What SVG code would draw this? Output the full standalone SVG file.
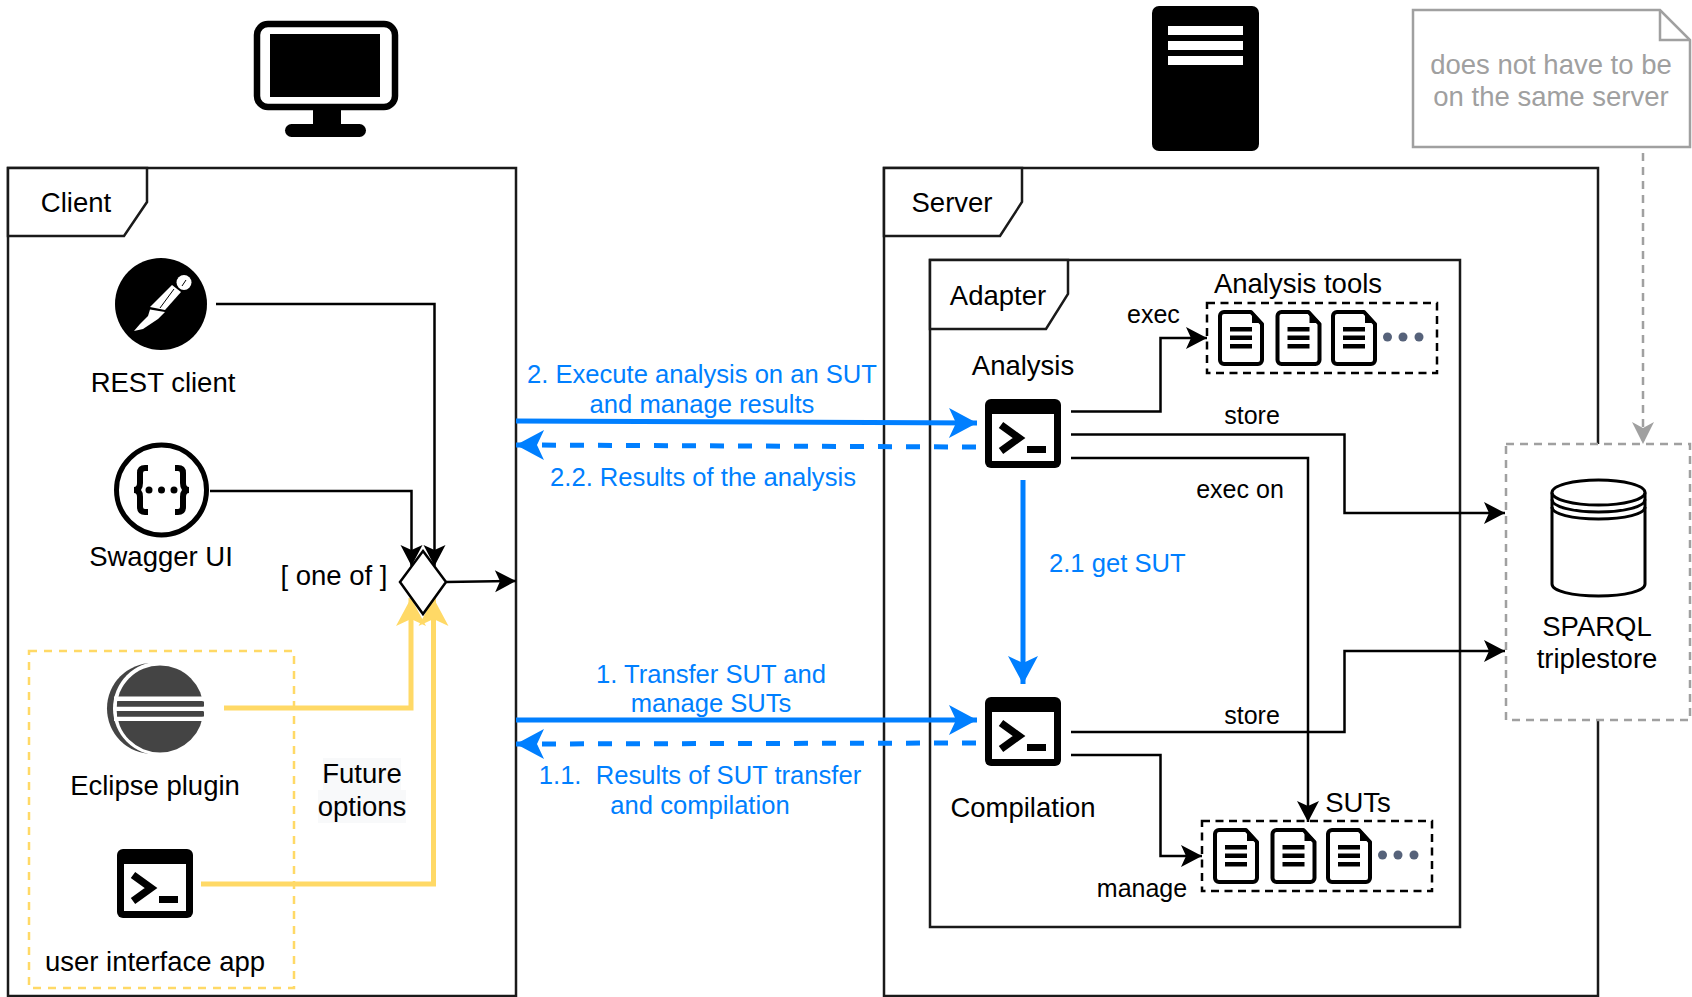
<svg xmlns="http://www.w3.org/2000/svg" xmlns:xlink="http://www.w3.org/1999/xlink" width="1692" height="997" viewBox="0 0 1692 997">
<style>
text{font-family:"Liberation Sans",Arial,sans-serif;font-size:27.5px;fill:#000}
.m{text-anchor:middle}
.b{fill:#007fff;font-size:25.6px}
.s{font-size:25px}
.g{fill:#a0a0a0}
.frame{fill:none;stroke:#1a1a1a;stroke-width:2.5}
.tab{fill:#fff;stroke:#1a1a1a;stroke-width:2.5}
.c{fill:none;stroke:#000;stroke-width:2.5;marker-end:url(#ah)}
.bl{fill:none;stroke:#007fff;stroke-width:5;marker-end:url(#bh)}
.bd{fill:none;stroke:#007fff;stroke-width:5;stroke-dasharray:14 14;marker-end:url(#bh)}
.y{fill:none;stroke:#ffd966;stroke-width:5;marker-end:url(#yh)}
.dash{fill:none;stroke:#000;stroke-width:2.5;stroke-dasharray:8 5.5}
</style>
<defs>
<marker id="ah" markerUnits="userSpaceOnUse" markerWidth="24" markerHeight="26" viewBox="-22 -13 24 26" refX="0" refY="0" orient="auto"><path d="M-21,-11L0,0L-21,11L-16,0Z" fill="#000"/></marker>
<marker id="bh" markerUnits="userSpaceOnUse" markerWidth="32" markerHeight="34" viewBox="-30 -17 32 34" refX="0" refY="0" orient="auto"><path d="M-28,-15L0,0L-28,15L-21,0Z" fill="#007fff"/></marker>
<marker id="yh" markerUnits="userSpaceOnUse" markerWidth="32" markerHeight="34" viewBox="-30 -17 32 34" refX="0" refY="0" orient="auto"><path d="M-28,-15L0,0L-28,15L-21,0Z" fill="#ffd966"/></marker>
<marker id="gh" markerUnits="userSpaceOnUse" markerWidth="24" markerHeight="26" viewBox="-22 -13 24 26" refX="0" refY="0" orient="auto"><path d="M-22,-11L0,0L-22,11L-16,0Z" fill="#a0a0a0"/></marker>
<symbol id="term" viewBox="0 0 76 69" width="76" height="69" overflow="visible">
<rect width="76" height="69" rx="6" fill="#000"/>
<rect x="7" y="15" width="62" height="47" fill="#fff"/>
<path d="M16,26L34,39L16,52" fill="none" stroke="#000" stroke-width="7.5"/>
<rect x="42" y="47" width="19" height="7" fill="#000"/>
</symbol>
<symbol id="doc" viewBox="0 0 46 56" width="46" height="56" overflow="visible">
<path d="M6,2H33L44,14V50a4,4 0 0 1 -4,4H6a4,4 0 0 1 -4,-4V6a4,4 0 0 1 4,-4Z" fill="#fff" stroke="#000" stroke-width="4" stroke-linejoin="round"/>
<path d="M34,1L45,13H34Z" fill="#000"/>
<path d="M12,17h22v4.500h-22zM12,25.500h22v4.500h-22zM12,34h22v4.500h-22z" fill="#000"/>
</symbol>
</defs>
<rect width="1692" height="997" fill="#fff"/>

<g id="client-frame">
<path class="frame" d="M8,168H516V996H8Z"/>
<path class="tab" d="M8,168H147V202L124,236H8Z"/>
<text x="76" y="212" class="m">Client</text>
</g>
<g id="server-frame">
<path class="frame" d="M884,168H1598V996H884Z"/>
<path class="tab" d="M884,168H1022V202L1000,236H884Z"/>
<text x="952" y="212" class="m">Server</text>
</g>
<g id="adapter-frame">
<path class="frame" d="M930,260H1460V927H930Z"/>
<path class="tab" d="M930,260H1068V294L1046,329H930Z"/>
<text x="998" y="305" class="m">Adapter</text>
</g>
<g id="monitor">
<rect x="257" y="24" width="138" height="83" rx="11" fill="#fff" stroke="#000" stroke-width="6.500"/>
<rect x="270" y="34" width="110" height="63" fill="#000"/>
<rect x="313" y="110" width="28" height="16" fill="#000"/>
<rect x="285" y="124" width="81" height="13" rx="6.500" fill="#000"/>
</g>
<g id="server-icon">
<rect x="1152" y="6" width="107" height="145" rx="7" fill="#000"/>
<path d="M1168,26h75v9h-75zM1168,41h75v9h-75zM1168,56h75v9h-75z" fill="#fff"/>
</g>
<g id="note">
<path d="M1413,10H1660L1690,40V147H1413Z" fill="#fff" stroke="#a0a0a0" stroke-width="2.500"/>
<path d="M1660,10V40H1690" fill="none" stroke="#a0a0a0" stroke-width="2.500"/>
<text x="1551" y="74" class="m g">does not have to be</text>
<text x="1551" y="106" class="m g">on the same server</text>
</g>
<g id="sparql">
<rect x="1506" y="444" width="184" height="276" fill="#fff" stroke="#a0a0a0" stroke-width="2.500" stroke-dasharray="8 6"/>
<path d="M1552,492.500V584C1552,591 1572,596 1598.500,596C1625,596 1645,591 1645,584V492.500" fill="#fff" stroke="#000" stroke-width="3"/>
<ellipse cx="1598.500" cy="492.500" rx="46.500" ry="12.500" fill="#fff" stroke="#000" stroke-width="3"/>
<path d="M1552,499.500C1552,506.500 1572,512 1598.500,512C1625,512 1645,506.500 1645,499.500M1552,507C1552,514 1572,519 1598.500,519C1625,519 1645,514 1645,507" fill="none" stroke="#000" stroke-width="3"/>
<text x="1597" y="636" class="m">SPARQL</text>
<text x="1597" y="668" class="m">triplestore</text>
</g>
<g id="future-options">
<rect x="29" y="651" width="265" height="337" fill="none" stroke="#ffd966" stroke-width="2.500" stroke-dasharray="8 7"/>
<rect x="323" y="758" width="78" height="32" fill="#f8f9fa"/>
<rect x="318" y="790" width="88" height="33" fill="#f8f9fa"/>
<text x="362" y="783" class="m">Future</text>
<text x="362" y="816" class="m">options</text>
</g>

<g id="connectors">
<path class="c" d="M216,304H434.500V566"/>
<path class="c" d="M210,491H411.500V566"/>
<path class="c" d="M446,582L516,581"/>
<path class="y" d="M224,708H411V598"/>
<path class="y" d="M201,884H433.500V598"/>
<path class="c" d="M1071,411.500H1160.500V338H1207"/>
<path class="c" d="M1071,434.500H1344.500V513H1505"/>
<path class="c" d="M1071,458H1308V822"/>
<path class="c" d="M1071,732H1344.500V651H1505"/>
<path class="c" d="M1071,755H1160.500V856H1202"/>
<path class="bl" d="M516,421L977,423"/>
<path class="bd" d="M976,447L516,445"/>
<path class="bl" d="M516,720L977,720"/>
<path class="bd" d="M976,743L516,744"/>
<path class="bl" d="M1023,480V684"/>
<path d="M1643,153V444" fill="none" stroke="#a0a0a0" stroke-width="2.500" stroke-dasharray="8 6" marker-end="url(#gh)"/>
</g>

<g id="rest-client">
<circle cx="161" cy="304" r="46" fill="#000"/>
<circle cx="184" cy="282.500" r="7.500" fill="#fff"/>
<path d="M172,285L181,292L165,310L150,307L156,301Z" fill="#fff"/>
<path d="M150,309.500L165,312L158,319L143,329L134,331L140,324L148,316Z" fill="#fff"/>
<path d="M174,289L160,308M186,280L182,286" fill="none" stroke="#000" stroke-width="1"/>
<text x="163" y="392" class="m">REST client</text>
</g>
<g id="swagger-ui">
<circle cx="161.500" cy="490" r="45" fill="#fff" stroke="#000" stroke-width="5"/>
<path d="M148,468h-3q-5,0 -5,5v10q0,7 -6,7q6,0 6,7v10q0,5 5,5h3M175,468h3q5,0 5,5v10q0,7 6,7q-6,0 -6,7v10q0,5 -5,5h-3" fill="none" stroke="#000" stroke-width="6"/>
<circle cx="149" cy="490" r="3.500"/><circle cx="161.500" cy="490" r="3.500"/><circle cx="174" cy="490" r="3.500"/>
<text x="161" y="566" class="m">Swagger UI</text>
</g>
<g id="one-of">
<path d="M423,551L446,582L423,614L400,582Z" fill="#fff" stroke="#000" stroke-width="2.500"/>
<text x="334" y="585" class="m">[ one of ]</text>
</g>
<g id="eclipse-plugin">
<circle cx="152.500" cy="708.500" r="45.500" fill="#444"/>
<circle cx="160" cy="708.500" r="47" fill="#fff"/>
<circle cx="160" cy="709" r="43.500" fill="#444"/>
<rect x="114" y="696.500" width="92" height="4.500" fill="#fff"/>
<rect x="114" y="706.500" width="92" height="4.500" fill="#fff"/>
<rect x="114" y="716.500" width="92" height="4.500" fill="#fff"/>
<rect x="117" y="701.500" width="87" height="5" fill="#444"/>
<rect x="117" y="711.500" width="87" height="5" fill="#444"/>
<text x="155" y="795" class="m">Eclipse plugin</text>
</g>
<g id="user-interface-app">
<use xlink:href="#term" href="#term" x="117" y="849"/>
<text x="155" y="971" class="m">user interface app</text>
</g>
<g id="analysis">
<text x="1023" y="375" class="m">Analysis</text>
<use xlink:href="#term" href="#term" x="985" y="399"/>
</g>
<g id="compilation">
<use xlink:href="#term" href="#term" x="985" y="697"/>
<text x="1023" y="817" class="m">Compilation</text>
</g>
<g id="analysis-tools">
<text x="1298" y="293" class="m">Analysis tools</text>
<rect x="1207" y="303" width="230" height="70" class="dash"/>
<use xlink:href="#doc" href="#doc" x="1218" y="310"/>
<use xlink:href="#doc" href="#doc" x="1275.500" y="310"/>
<use xlink:href="#doc" href="#doc" x="1331" y="310"/>
<g fill="#56627a"><circle cx="1387.500" cy="337" r="4.500"/><circle cx="1403" cy="337" r="4.500"/><circle cx="1419" cy="337" r="4.500"/></g>
</g>
<g id="suts">
<text x="1358" y="812" class="m">SUTs</text>
<rect x="1202" y="821" width="230" height="70" class="dash"/>
<use xlink:href="#doc" href="#doc" x="1213" y="828"/>
<use xlink:href="#doc" href="#doc" x="1270.500" y="828"/>
<use xlink:href="#doc" href="#doc" x="1326" y="828"/>
<g fill="#56627a"><circle cx="1382.500" cy="855" r="4.500"/><circle cx="1398" cy="855" r="4.500"/><circle cx="1414" cy="855" r="4.500"/></g>
</g>
<g id="labels">
<text x="1127" y="323" class="s">exec</text>
<text x="1252" y="424" class="m s">store</text>
<text x="1240" y="498" class="m s">exec on</text>
<text x="1252" y="724" class="m s">store</text>
<text x="1142" y="897" class="m s">manage</text>
<text x="702" y="383" class="m b">2. Execute analysis on an SUT</text>
<text x="702" y="413" class="m b">and manage results</text>
<text x="703" y="486" class="m b">2.2. Results of the analysis</text>
<text x="711" y="683" class="m b">1. Transfer SUT and</text>
<text x="711" y="712" class="m b">manage SUTs</text>
<text x="700" y="784" class="m b" xml:space="preserve">1.1.  Results of SUT transfer</text>
<text x="700" y="814" class="m b">and compilation</text>
<text x="1049" y="572" class="b">2.1 get SUT</text>
</g>
</svg>
